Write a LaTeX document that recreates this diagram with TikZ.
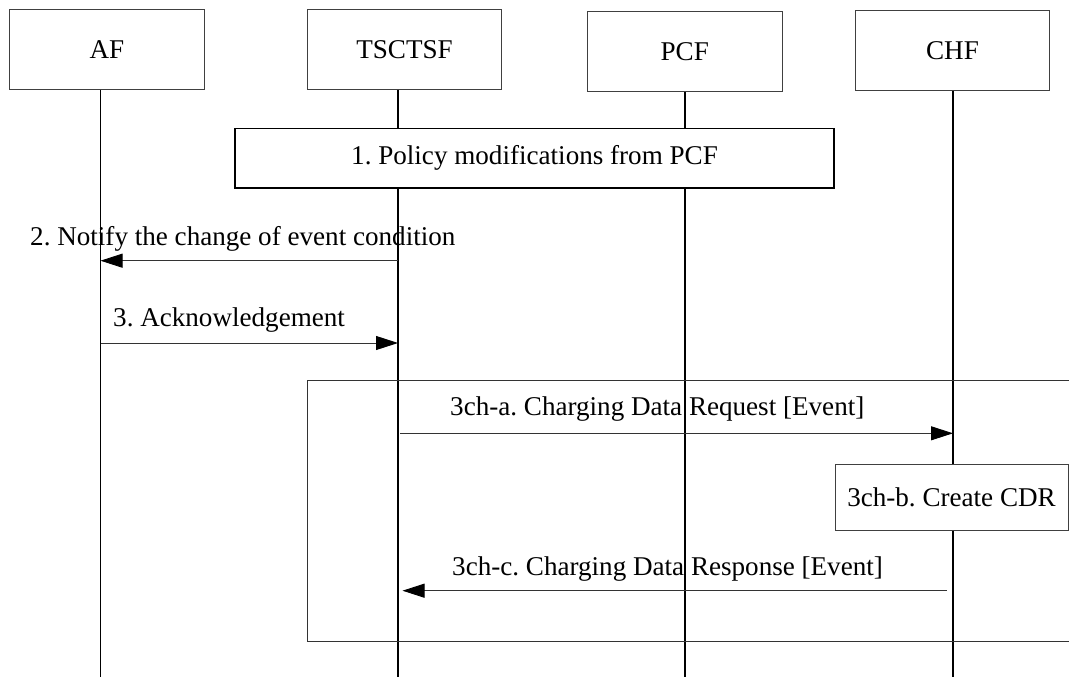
\documentclass[tikz,border=0pt]{standalone}
\usepackage{fontspec}
\setmainfont{Liberation Serif}
\usetikzlibrary{arrows.meta}
\newcommand\diagfont{\fontsize{27.1}{32}\selectfont\frenchspacing}
\begin{document}
\begin{tikzpicture}[x=1pt,y=-1pt,
  hdr/.style={draw=black!75, line width=0.8pt, fill=white, minimum width=194.5pt, minimum height=80pt, inner sep=0pt, font=\diagfont},
  life/.style={line width=1.6pt},
  msg/.style={draw=black!80, line width=0.9pt, -{Triangle[length=22pt,width=14pt,color=black]}},
  lbl/.style={anchor=base west, inner sep=0pt, font=\diagfont},
  frame/.style={draw=black!80, line width=1pt},
  stepbox/.style={draw, line width=1.5pt, fill=white, inner sep=0pt, font=\diagfont},
  actbox/.style={draw=black!75, line width=0.8pt, fill=white, inner sep=0pt, font=\diagfont}]
\useasboundingbox[fill=white] (0,0) rectangle (1069,677);

% lifeline coordinates
\coordinate (afB) at (100.5,677);
\coordinate (tsB) at (398,677);
\coordinate (pcfB) at (685,677);
\coordinate (chfB) at (953,677);

% header boxes
\node[hdr] (af) at (106.9,49.55) {AF};
\node[hdr] (ts) at (404.5,49.8) {TSCTSF};
\node[hdr] (pcf) at (684.75,51.7) {PCF};
\node[hdr] (chf) at (952.5,50.65) {CHF};

% lifelines
\draw[life] (afB |- af.south) -- (afB);
\draw[life] (tsB |- ts.south) -- (tsB);
\draw[life] (pcfB |- pcf.south) -- (pcfB);
\draw[life] (chfB |- chf.south) -- (chfB);

% step 1
\node[stepbox, minimum width=599pt, minimum height=59.6pt] (p1) at (534.5,158.2) {1. Policy modifications from PCF};

% step 2
\node[lbl] (l2) at (30,245) {2. Notify the change of event condition};
\draw[msg] (tsB |- 0,260.7) -- (afB |- 0,260.7);

% step 3
\node[lbl] (l3) at (113,326.7) {3. Acknowledgement};
\draw[msg] (afB |- 0,343) -- (tsB |- 0,343);

% charging frame
\draw[frame] (1075,380.7) -- (307,380.7) -- (307,641.7) -- (1075,641.7);

% 3ch-a
\node[lbl] (l3a) at (450,415) {3ch-a. Charging Data Request [Event]};
\draw[msg, shorten <=2pt] (tsB |- 0,433.3) -- (chfB |- 0,433.3);

% 3ch-b
\node[actbox, minimum width=233pt, minimum height=65.7pt] (cdr) at (951.5,497.2) {3ch-b. Create CDR};

% 3ch-c
\node[lbl] (l3c) at (452,575) {3ch-c. Charging Data Response [Event]};
\draw[msg, shorten <=6.5pt, shorten >=4.5pt] (chfB |- 0,590.7) -- (tsB |- 0,590.7);
\end{tikzpicture}
\end{document}
